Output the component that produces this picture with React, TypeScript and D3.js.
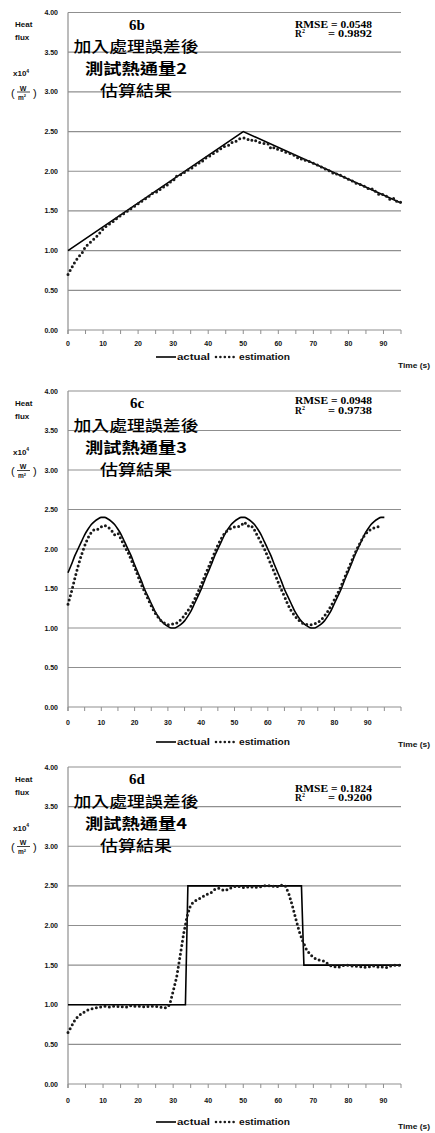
import React from "react";
import * as d3 from "d3";

// ---------- DATA ----------
const X_LABELS = [0, 10, 20, 30, 40, 50, 60, 70, 80, 90];
const Y_TICKS = [0, 0.5, 1, 1.5, 2, 2.5, 3, 3.5, 4];
const TITLE_LINES_B = ["加入處理誤差後", "測試熱通量2", "估算結果"];
const TITLE_LINES_C = ["加入處理誤差後", "測試熱通量3", "估算結果"];
const TITLE_LINES_D = ["加入處理誤差後", "測試熱通量4", "估算結果"];

// 6b
const ACT_B_T = [0, 50, 95];
const ACT_B_V = [1.0, 2.5, 1.6];
const EST_B = [
  0.70, 0.78, 0.86, 0.92, 0.97, 1.05, 1.09, 1.13, 1.17, 1.22,
  1.27, 1.31, 1.34, 1.37, 1.41, 1.44, 1.47, 1.50, 1.53, 1.56,
  1.59, 1.62, 1.65, 1.68, 1.72, 1.73, 1.76, 1.80, 1.81, 1.86,
  1.88, 1.94, 1.95, 1.98, 2.01, 2.03, 2.06, 2.10, 2.11, 2.16,
  2.18, 2.21, 2.24, 2.26, 2.30, 2.32, 2.33, 2.37, 2.38, 2.41,
  2.42, 2.41, 2.38, 2.40, 2.37, 2.36, 2.35, 2.35, 2.28, 2.30,
  2.27, 2.26, 2.24, 2.23, 2.21, 2.19, 2.15, 2.16, 2.13, 2.12,
  2.10, 2.08, 2.06, 2.04, 2.01, 2.00, 1.96, 1.97, 1.94, 1.92,
  1.90, 1.88, 1.85, 1.84, 1.82, 1.80, 1.77, 1.78, 1.73, 1.70,
  1.71, 1.68, 1.64, 1.66, 1.61, 1.61,
];

// 6c
const ACT_C = [
  1.70, 1.80, 1.91, 2.00, 2.09, 2.18, 2.25, 2.31, 2.35, 2.38, 2.40, 2.40, 2.38, 2.35, 2.31, 2.25, 2.18, 2.09, 2.00, 1.91, 1.80,
  1.70, 1.60, 1.49, 1.40, 1.31, 1.22, 1.15, 1.09, 1.05, 1.02, 1.00, 1.00, 1.02, 1.05, 1.09, 1.15, 1.22, 1.31, 1.40, 1.49, 1.60,
  1.70, 1.80, 1.91, 2.00, 2.09, 2.18, 2.25, 2.31, 2.35, 2.38, 2.40, 2.40, 2.38, 2.35, 2.31, 2.25, 2.18, 2.09, 2.00, 1.91, 1.80,
  1.70, 1.60, 1.49, 1.40, 1.31, 1.22, 1.15, 1.09, 1.05, 1.02, 1.00, 1.00, 1.02, 1.05, 1.09, 1.15, 1.22, 1.31, 1.40, 1.49, 1.60,
  1.70, 1.80, 1.91, 2.00, 2.09, 2.18, 2.25, 2.31, 2.35, 2.38, 2.40, 2.40,
];
const EST_C = [
  1.30, 1.45, 1.62, 1.78, 1.92, 2.04, 2.14, 2.21, 2.25, 2.25,
  2.28, 2.30, 2.28, 2.24, 2.18, 2.20, 2.12, 2.03, 1.96, 1.86,
  1.77, 1.66, 1.55, 1.46, 1.37, 1.28, 1.20, 1.14, 1.09, 1.06,
  1.04, 1.05, 1.05, 1.07, 1.11, 1.16, 1.22, 1.28, 1.36, 1.45,
  1.55, 1.65, 1.75, 1.85, 1.95, 2.05, 2.13, 2.20, 2.24, 2.26,
  2.28, 2.28, 2.30, 2.34, 2.29, 2.30, 2.24, 2.16, 2.08, 2.00,
  1.90, 1.80, 1.70, 1.59, 1.49, 1.40, 1.30, 1.22, 1.16, 1.11,
  1.07, 1.05, 1.04, 1.04, 1.05, 1.07, 1.10, 1.15, 1.21, 1.28,
  1.36, 1.44, 1.53, 1.63, 1.73, 1.83, 1.93, 2.02, 2.10, 2.17,
  2.22, 2.25, 2.27, 2.28, 2.30,
];

// 6d
const ACT_D_T = [0, 33.5, 34.2, 66.6, 67.3, 95];
const ACT_D_V = [1.0, 1.0, 2.5, 2.5, 1.5, 1.5];
const EST_D = [
  0.65, 0.73, 0.81, 0.86, 0.89, 0.92, 0.94, 0.95, 0.96, 0.97,
  0.98, 0.98, 0.97, 0.98, 0.98, 0.97, 0.98, 0.97, 0.99, 0.98,
  0.98, 0.98, 0.97, 0.98, 0.98, 0.98, 0.97, 0.97, 0.96, 1.00,
  1.17, 1.35, 1.62, 1.90, 2.12, 2.26, 2.30, 2.33, 2.35, 2.38,
  2.40, 2.42, 2.46, 2.47, 2.45, 2.44, 2.47, 2.48, 2.50, 2.49,
  2.48, 2.49, 2.48, 2.49, 2.48, 2.49, 2.50, 2.51, 2.49, 2.50,
  2.49, 2.51, 2.50, 2.40, 2.25, 2.08, 1.92, 1.80, 1.70, 1.64,
  1.60, 1.57, 1.56, 1.55, 1.52, 1.49, 1.48, 1.47, 1.49, 1.50,
  1.50, 1.49, 1.49, 1.48, 1.48, 1.47, 1.48, 1.49, 1.48, 1.47,
  1.48, 1.47, 1.49, 1.50, 1.50, 1.50,
];

// ---------- COMPONENTS ----------
type Pt = [number, number];

interface PanelProps {
  yTop: number;
  yBot: number;
  xMax: number;
  actual: Pt[];
  actualCurve: any;
  estimate: Pt[];
  tag: string;
  lines: string[];
  rmse: string;
  r2: string;
  rmseDy: number;
  r2Dy: number;
  xLabelY: number;
  legendY: number;
  timeY: number;
}

const GRID = "#8f8f8f";
const SANS = "'Liberation Sans', Arial, sans-serif";
const SERIF = "'Liberation Serif', 'Times New Roman', serif";
const CJK = "'Noto Sans CJK TC', 'Noto Sans CJK SC', sans-serif";
const LINE_WIDTHS = [125, 102, 72];

function Panel(p: PanelProps) {
  const x = d3.scaleLinear().domain([0, p.xMax]).range([68, 401]);
  const y = d3.scaleLinear().domain([0, 4]).range([p.yBot, p.yTop]);
  const minor = d3.range(0, p.xMax + 0.001, 5);
  const lineGen = d3
    .line<Pt>()
    .x((d) => x(d[0]))
    .y((d) => y(d[1]))
    .curve(p.actualCurve);
  const estGen = d3
    .line<Pt>()
    .x((d) => x(d[0]))
    .y((d) => y(d[1]))
    .curve(d3.curveLinear);
  const t = p.yTop;
  return (
    <g>
      {Y_TICKS.map((v) => (
        <g key={v}>
          <line x1={68} x2={401} y1={y(v)} y2={y(v)} stroke={GRID} strokeWidth={1.2} />
          <text
            x={58}
            y={y(v)}
            textAnchor="end"
            dominantBaseline="central"
            fontFamily={SANS}
            fontWeight="bold"
            fontSize={7}
            fill="#111"
          >
            {v.toFixed(2)}
          </text>
        </g>
      ))}
      <line x1={68} x2={68} y1={p.yTop} y2={p.yBot + 4} stroke={GRID} strokeWidth={1.2} />
      {minor.map((m) => (
        <line key={m} x1={x(m)} x2={x(m)} y1={p.yBot} y2={p.yBot + 4} stroke={GRID} strokeWidth={1} />
      ))}
      {X_LABELS.map((v) => (
        <text
          key={v}
          x={x(v)}
          y={p.xLabelY}
          textAnchor="middle"
          dominantBaseline="central"
          fontFamily={SANS}
          fontWeight="bold"
          fontSize={7}
          fill="#111"
        >
          {v}
        </text>
      ))}

      {/* curves */}
      <path d={lineGen(p.actual) || ""} fill="none" stroke="#000" strokeWidth={1.6} />
      <path
        d={estGen(p.estimate) || ""}
        fill="none"
        stroke="#1a1a1a"
        strokeWidth={3}
        strokeLinecap="round"
        strokeDasharray="0 4.4"
      />

      {/* y axis title */}
      <text x={15} y={t + 12} dominantBaseline="central" fontFamily={SANS} fontWeight="bold" fontSize={8} fill="#111">
        Heat
      </text>
      <text x={15} y={t + 25} dominantBaseline="central" fontFamily={SANS} fontWeight="bold" fontSize={8} fill="#111">
        flux
      </text>
      <text x={13} y={t + 61} dominantBaseline="central" fontFamily={SANS} fontWeight="bold" fontSize={8} fill="#111">
        x10
        <tspan fontSize={5} dy={-3}>4</tspan>
      </text>
      <text x={11} y={t + 80} dominantBaseline="central" fontFamily={SANS} fontSize={11} fill="#111">
        (
      </text>
      <text x={23} y={t + 75.5} textAnchor="middle" dominantBaseline="central" fontFamily={SANS} fontWeight="bold" fontSize={7} fill="#111">
        W
      </text>
      <line x1={17} x2={30} y1={t + 79.5} y2={t + 79.5} stroke="#111" strokeWidth={0.8} />
      <text x={22} y={t + 84.5} textAnchor="middle" dominantBaseline="central" fontFamily={SANS} fontWeight="bold" fontSize={6.5} fill="#111">
        m
        <tspan fontSize={4} dy={-2}>2</tspan>
      </text>
      <text x={33} y={t + 80} dominantBaseline="central" fontFamily={SANS} fontSize={11} fill="#111">
        )
      </text>

      {/* title */}
      <text x={137} y={t + 12} textAnchor="middle" dominantBaseline="central" fontFamily={SERIF} fontWeight="bold" fontSize={15} fill="#000">
        {p.tag}
      </text>
      {p.lines.map((s, i) => (
        <text
          key={i}
          x={136 - LINE_WIDTHS[i] / 2}
          y={t + 33 + i * 22}
          dominantBaseline="central"
          fontFamily={CJK}
          fontWeight={i === 1 ? 700 : 500}
          fontSize={15}
          fill="#000"
          textLength={LINE_WIDTHS[i]}
          lengthAdjust="spacingAndGlyphs"
        >
          {s}
        </text>
      ))}

      {/* RMSE */}
      <text x={295} y={t + p.rmseDy} dominantBaseline="central" fontFamily={SERIF} fontWeight="bold" fontSize={9.5} fill="#000" textLength={77} lengthAdjust="spacingAndGlyphs">
        RMSE = {p.rmse}
      </text>
      <text x={295} y={t + p.r2Dy} dominantBaseline="central" fontFamily={SERIF} fontWeight="bold" fontSize={9.5} fill="#000">
        R<tspan fontSize={6} dy={-3}>2</tspan>
      </text>
      <text x={328} y={t + p.r2Dy} dominantBaseline="central" fontFamily={SERIF} fontWeight="bold" fontSize={9.5} fill="#000" textLength={44} lengthAdjust="spacingAndGlyphs">
        = {p.r2}
      </text>

      {/* legend */}
      <line x1={156} x2={176} y1={p.legendY} y2={p.legendY} stroke="#000" strokeWidth={1.6} />
      <text x={177} y={p.legendY} dominantBaseline="central" fontFamily={SANS} fontWeight="bold" fontSize={9} fill="#111" textLength={33} lengthAdjust="spacingAndGlyphs">
        actual
      </text>
      <line x1={216} x2={236} y1={p.legendY} y2={p.legendY} stroke="#1a1a1a" strokeWidth={2.6} strokeLinecap="round" strokeDasharray="0 4.4" />
      <text x={239} y={p.legendY} dominantBaseline="central" fontFamily={SANS} fontWeight="bold" fontSize={9} fill="#111" textLength={51} lengthAdjust="spacingAndGlyphs">
        estimation
      </text>
      <text x={398} y={p.timeY} dominantBaseline="central" fontFamily={SANS} fontWeight="bold" fontSize={7.5} fill="#111" textLength={32} lengthAdjust="spacingAndGlyphs">
        Time (s)
      </text>
    </g>
  );
}

export default function App() {
  const estB: Pt[] = EST_B.map((v, i) => [i, v]);
  const estC: Pt[] = EST_C.map((v, i) => [i, v]);
  const estD: Pt[] = EST_D.map((v, i) => [i, v]);
  const actB: Pt[] = ACT_B_T.map((tt, i) => [tt, ACT_B_V[i]]);
  const actC: Pt[] = ACT_C.map((v, i) => [i, v]);
  const actD: Pt[] = ACT_D_T.map((tt, i) => [tt, ACT_D_V[i]]);
  return (
    <svg
      width={435}
      height={1133}
      viewBox="0 0 435 1133"
      style={{ position: "absolute", left: 0, top: 0, background: "#fff" }}
    >
      <rect x={0} y={0} width={435} height={1133} fill="#fff" />
      <Panel
        yTop={12.5}
        yBot={330}
        xMax={95}
        actual={actB}
        actualCurve={d3.curveLinear}
        estimate={estB}
        tag="6b"
        lines={TITLE_LINES_B}
        rmse="0.0548"
        r2="0.9892"
        rmseDy={12}
        r2Dy={21.5}
        xLabelY={343}
        legendY={357}
        timeY={365}
      />
      <Panel
        yTop={391}
        yBot={707}
        xMax={100}
        actual={actC}
        actualCurve={d3.curveMonotoneX}
        estimate={estC}
        tag="6c"
        lines={TITLE_LINES_C}
        rmse="0.0948"
        r2="0.9738"
        rmseDy={9.5}
        r2Dy={19.5}
        xLabelY={722}
        legendY={742}
        timeY={744}
      />
      <Panel
        yTop={767}
        yBot={1084}
        xMax={95}
        actual={actD}
        actualCurve={d3.curveLinear}
        estimate={estD}
        tag="6d"
        lines={TITLE_LINES_D}
        rmse="0.1824"
        r2="0.9200"
        rmseDy={21.5}
        r2Dy={31}
        xLabelY={1100}
        legendY={1122}
        timeY={1126}
      />
    </svg>
  );
}
